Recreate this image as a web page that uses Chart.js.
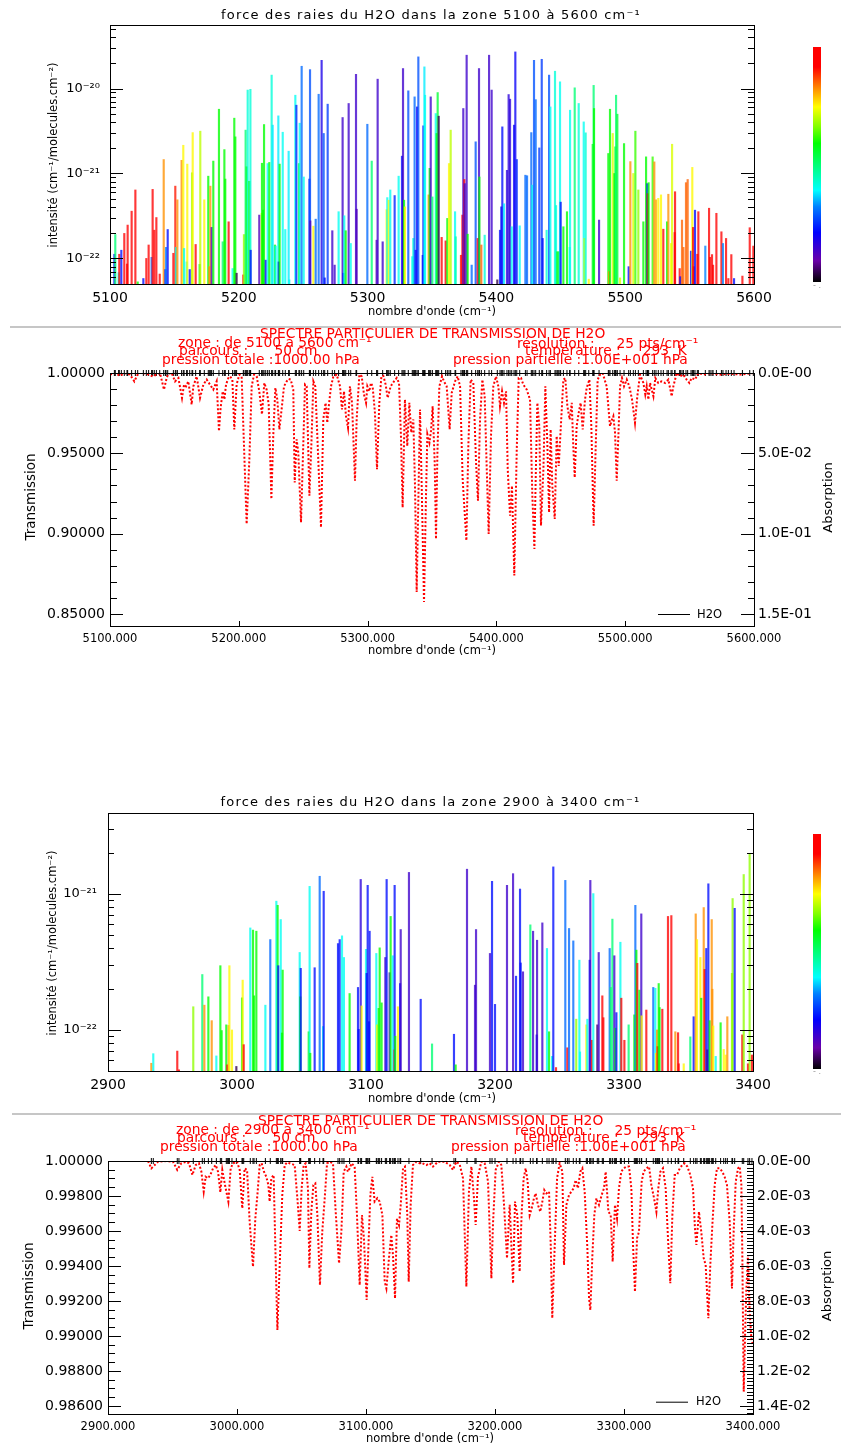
<!DOCTYPE html>
<html lang="fr">
<head>
<meta charset="utf-8">
<title>Raies et transmission H2O</title>
<script src="https://cdn.jsdelivr.net/npm/chart.js@4.4.1/dist/chart.umd.min.js"></script>
<style>
  html, body { margin: 0; padding: 0; background: #fff; }
  body { position: relative; width: 841px; height: 1445px; overflow: hidden; }
  canvas { position: absolute; left: 0; }
  .sep { position: absolute; height: 2px; background: #c6c6c6; }
  .barre { position: absolute; left: 813px; width: 8px; }
</style>
</head>
<body>
<canvas id="raies1" width="841" height="320" style="top:0"></canvas>
<div class="sep" style="top:326px;left:10px;width:831px"></div>
<canvas id="trans1" width="841" height="340" style="top:320px"></canvas>
<canvas id="raies2" width="841" height="320" style="top:785px"></canvas>
<div class="sep" style="top:1113px;left:12px;width:829px"></div>
<canvas id="trans2" width="841" height="340" style="top:1105px"></canvas>
<div class="barre" id="barre1" style="top:47px;height:235px"></div>
<div class="barre" id="barre2" style="top:834px;height:235px"></div>
<script>
// ---- zone 5100-5600 : raies (nombre d'onde, intensite, niveau de couleur 0..1)
const raies1Nu = [
  5103.4,5104.1,5106.7,5107.2,5108.8,5111.1,5113.2,5113.7,5116.8,5119.7,
  5121.5,5125.9,5128.2,5130.0,5132.3,5133.1,5134.4,5136.0,5138.6,5141.7,
  5143.0,5143.5,5144.8,5149.2,5150.7,5151.2,5152.3,5155.6,5156.9,5157.5,
  5159.5,5160.0,5161.9,5163.7,5164.2,5166.5,5169.6,5170.1,5173.2,5176.3,
  5177.1,5177.9,5178.9,5180.2,5184.6,5187.5,5188.8,5189.5,5192.1,5195.2,
  5196.5,5197.3,5198.3,5203.5,5204.0,5205.3,5206.1,5206.9,5208.2,5209.0,
  5209.2,5215.9,5217.8,5218.0,5218.8,5219.6,5220.9,5222.4,5223.7,5225.5,
  5226.3,5228.1,5228.6,5230.7,5231.0,5231.7,5234.1,5236.1,5238.7,5239.2,
  5243.9,5244.7,5246.7,5247.3,5248.8,5250.4,5254.8,5255.3,5255.5,5257.9,
  5259.7,5262.0,5264.3,5265.9,5266.7,5269.0,5272.6,5274.4,5277.5,5280.6,
  5281.2,5281.9,5283.0,5285.3,5286.9,5291.0,5291.5,5299.8,5303.2,5307.0,
  5307.8,5311.7,5314.8,5315.3,5316.4,5317.6,5321.0,5324.1,5326.7,5327.5,
  5328.3,5329.0,5331.6,5334.7,5335.5,5336.5,5337.3,5338.4,5339.4,5342.8,
  5343.3,5344.1,5344.6,5347.4,5348.2,5349.0,5350.3,5352.9,5353.6,5354.4,
  5355.2,5357.5,5360.6,5361.9,5363.2,5364.5,5367.9,5368.4,5372.5,5373.6,
  5374.3,5375.1,5375.4,5376.9,5377.7,5380.8,5383.9,5385.5,5386.5,5386.8,
  5388.3,5390.9,5394.3,5396.3,5400.7,5402.8,5403.8,5404.6,5405.9,5408.2,
  5409.5,5410.6,5411.9,5413.7,5414.7,5415.8,5418.1,5422.5,5423.8,5427.1,
  5427.9,5429.2,5430.5,5433.3,5435.2,5435.9,5439.0,5440.9,5441.9,5445.5,
  5446.3,5447.3,5448.4,5449.4,5449.9,5452.0,5454.8,5456.9,5457.2,5460.8,
  5463.9,5467.8,5468.3,5469.3,5471.7,5474.8,5475.5,5475.8,5479.7,5486.9,
  5487.4,5488.2,5490.3,5491.6,5492.4,5492.9,5493.9,5496.0,5499.1,5502.7,
  5504.0,5506.3,5507.9,5510.2,5514.1,5516.2,5517.2,5517.5,5518.2,5521.3,
  5522.6,5523.9,5525.7,5527.8,5529.6,5532.5,5533.5,5535.6,5536.4,5538.4,
  5538.7,5542.3,5542.8,5544.1,5545.2,5547.2,5548.5,5551.1,5552.1,5552.7,
  5553.2,5554.2,5556.0,5556.8,5562.2,5565.1,5565.9,5567.4,5568.2,5570.8,
  5574.7,5575.9,5578.3,5580.1,5582.4,5584.5,5591.0,5596.7,5599.5
];
const raies1S = [
  1.12e-22,1.91e-22,6.8e-23,1.12e-22,1.25e-22,1.97e-22,8.6e-23,2.47e-22,3.6e-22,6.4e-22,
  5.3e-23,5.8e-23,1.0e-22,1.44e-22,1.03e-22,6.5e-22,2.15e-22,3.03e-22,6.55e-23,1.46e-21,
  7.4e-23,1.35e-22,2.19e-22,1.15e-22,7.1e-22,1.35e-22,4.9e-22,1.43e-21,2.15e-21,1.31e-22,
  9.1e-23,1.29e-21,7.4e-23,1.02e-21,3.03e-21,1.46e-22,8.5e-23,3.15e-21,4.9e-22,9.3e-22,
  8.0e-23,7.1e-22,2.32e-22,1.40e-21,5.71e-21,1.57e-22,1.91e-21,8.6e-22,2.7e-22,7.6e-23,
  4.48e-21,2.7e-21,6.7e-23,6.4e-23,1.91e-22,3.24e-21,1.2e-21,9.6e-21,8.1e-22,9.8e-21,
  1.25e-22,3.24e-22,3.4e-22,1.32e-21,3.7e-22,3.77e-21,9.55e-23,1.31e-21,1.35e-21,1.44e-20,
  3.71e-21,1.44e-22,1.40e-22,4.77e-21,9.1e-23,1.29e-21,3.06e-21,2.19e-22,1.83e-21,5.6e-23,
  8.35e-21,6.37e-21,1.31e-21,3.91e-21,1.83e-20,9.1e-22,8.6e-22,1.67e-20,2.77e-22,2.40e-22,
  2.9e-22,8.57e-21,2.15e-20,2.96e-21,5.9e-23,6.55e-21,2.12e-22,8.35e-23,3.55e-22,4.56e-21,
  6.7e-23,3.18e-22,2.12e-22,6.67e-21,1.50e-22,1.47e-20,3.8e-22,3.8e-21,1.40e-21,1.64e-22,
  1.29e-20,1.57e-22,3.75e-22,5.2e-22,4.85e-22,6.4e-22,5.5e-22,9.3e-22,1.60e-21,1.72e-20,
  4.85e-22,4.05e-22,9.4e-21,1.05e-22,1.72e-22,7.98e-21,1.25e-22,6.08e-21,2.36e-20,1.09e-22,
  3.64e-21,1.80e-20,8.35e-21,5.6e-22,1.15e-21,7.98e-21,5.3e-22,5.08e-21,2.96e-21,8.97e-21,
  4.73e-21,1.77e-22,1.61e-22,2.96e-22,1.31e-21,3.24e-21,3.55e-22,1.80e-22,1.09e-22,3.24e-22,
  5.82e-21,8.5e-22,7.6e-22,2.47e-20,1.93e-22,8.35e-23,2.36e-21,1.72e-22,1.72e-20,9.1e-22,
  1.44e-22,1.88e-22,2.47e-20,9.6e-21,5.6e-23,2.15e-22,4.05e-22,3.54e-21,4.4e-22,1.09e-21,
  8.5e-21,7.5e-21,2.36e-22,3.71e-21,2.70e-20,1.46e-21,2.42e-22,9.55e-22,9.4e-22,3.03e-21,
  7.3e-22,2.15e-20,7.4e-21,2.0e-21,2.21e-20,1.72e-22,2.15e-22,1.44e-20,6.08e-21,1.60e-20,
  4.2e-22,1.20e-22,1.20e-22,1.20e-20,4.6e-22,2.36e-22,3.55e-22,1.35e-22,5.56e-21,1.02e-20,
  6.67e-21,4.05e-21,1.72e-22,3.01e-21,5.7e-23,2.21e-21,1.09e-20,5.82e-21,2.83e-22,1.72e-21,
  7.0e-23,5.71e-21,2.96e-21,1.0e-21,2.06e-21,8.35e-21,4.99e-21,5.9e-23,2.25e-21,8.0e-23,
  1.38e-21,1.0e-21,3.15e-21,6.4e-22,2.7e-22,1.57e-21,7.6e-22,5.8e-22,7.8e-22,1.57e-21,
  1.37e-21,4.9e-22,5.1e-22,5.6e-22,2.21e-22,2.7e-22,5.7e-22,1.50e-22,2.21e-21,2.02e-22,
  6.1e-22,7.6e-23,6.1e-23,2.83e-22,1.35e-22,7.8e-22,8.5e-22,1.22e-22,1.18e-21,2.32e-22,
  8.0e-23,3.7e-22,1.12e-22,3.55e-22,1.40e-22,3.9e-22,1.03e-22,1.11e-22,8.35e-23,3.4e-22,
  2.06e-22,1.50e-22,1.72e-22,5.8e-23,1.11e-22,5.8e-23,6.2e-23,2.3e-22,1.40e-22
];
const raies1Niv = [
  .22,.5,.4,.95,.22,.95,.95,.95,.95,.95,
  .59,.22,.95,.95,.3,.95,.95,.92,.95,.82,
  .22,.32,.22,.95,.9,.4,.82,.82,.75,.4,
  .4,.75,.22,.67,.75,.95,.59,.7,.75,.59,
  .82,.82,.12,.59,.59,.5,.59,.59,.95,.4,
  .59,.59,.04,.95,.67,.5,.59,.42,.59,.42,
  .22,.12,.75,.59,.59,.59,.2,.4,.59,.42,
  .38,.59,.4,.38,.22,.59,.4,.4,.38,.4,
  .4,.24,.55,.4,.3,.4,.24,.28,.12,.75,
  .3,.3,.18,.28,.22,.26,.14,.14,.4,.14,
  .22,.4,.59,.14,.4,.14,.12,.3,.5,.12,
  .14,.14,.75,.4,.75,.4,.24,.4,.22,.14,
  .59,.75,.28,.4,.42,.3,.22,.2,.28,.22,
  .22,.38,.4,.82,.59,.14,.5,.4,.59,.55,
  .04,.95,.95,.59,.75,.7,.4,.45,.95,.95,
  .14,.95,.14,.14,.59,.3,.28,.95,.14,.59,
  .85,.42,.14,.14,.04,.22,.22,.22,.38,.16,
  .16,.16,.4,.2,.2,.24,.4,.3,.3,.3,
  .4,.28,.3,.26,.26,.22,.42,.28,.4,.42,
  .42,.59,.55,.4,.22,.59,.59,.4,.4,.5,
  .42,.4,.72,.42,.75,.59,.5,.59,.14,.59,
  .82,.59,.72,.59,.59,.5,.55,.72,.59,.22,
  .82,.72,.62,.67,.59,.59,.22,.95,.59,.62,
  .82,.8,.75,.75,.95,.59,.82,.75,.72,.95,
  .95,.95,.22,.85,.85,.85,.85,.22,.75,.95,
  .95,.22,.95,.95,.32,.95,.95,.95,.95,.95,
  .95,.32,.95,.95,.95,.22,.95,.95,.95
];

// ---- zone 5100-5600 : spectre de transmission
const trans1Nu = [
  5100.0,5103.9,5107.8,5111.6,5115.5,5118.9,5122.0,5125.9,5129.8,5133.1,5136.2,5138.8,5141.9,5144.0,5145.3,5147.9,5150.5,5153.1,5155.9,5157.5,
  5159.0,5160.8,5163.4,5164.7,5167.3,5169.9,5172.5,5175.1,5177.6,5180.2,5182.8,5184.6,5185.9,5187.5,5188.8,5190.1,5191.9,5193.2,5195.0,5196.5,
  5198.3,5200.4,5202.2,5206.1,5208.2,5210.0,5211.8,5213.9,5215.9,5218.0,5219.8,5221.6,5223.2,5225.3,5226.8,5228.4,5229.9,5231.5,5233.5,5235.1,
  5237.2,5238.7,5240.3,5242.3,5243.4,5244.9,5246.2,5248.3,5250.1,5251.4,5252.7,5254.8,5256.3,5257.9,5259.4,5261.7,5263.8,5265.6,5267.4,5268.7,
  5270.0,5271.6,5273.4,5276.0,5278.6,5280.1,5281.7,5283.2,5284.8,5286.3,5287.9,5290.2,5291.5,5293.6,5295.4,5297.2,5298.8,5299.8,5301.3,5302.6,
  5303.9,5305.7,5307.3,5309.1,5310.7,5312.2,5314.0,5315.6,5317.9,5320.5,5322.6,5324.4,5325.9,5327.2,5329.0,5330.8,5332.4,5333.9,5335.5,5336.8,
  5338.1,
  5340.7,5342.0,5343.8,5345.4,5346.4,5348.0,5349.2,5350.5,5352.1,5353.1,5354.2,5355.7,5357.8,5359.3,5361.4,5363.7,5365.3,5367.9,5369.9,5371.8,
  5373.8,5376.7,5378.2,5380.0,5382.1,5384.2,5385.7,5387.3,5389.1,5390.9,5392.5,5394.0,5395.8,5397.6,5399.7,5401.5,5402.8,5404.4,5405.9,5407.5,
  5408.8,5410.6,5412.1,5413.9,5415.8,5417.3,5419.1,5420.9,5423.5,5426.1,5427.9,5429.5,5430.8,5431.8,5433.3,5434.6,5436.5,5438.0,5439.6,5440.9,
  5442.1,5443.4,5445.3,5446.8,5448.4,5449.9,5452.0,5453.5,5455.1,5456.9,5458.5,5459.7,5460.8,5462.3,5463.9,5465.4,5467.0,5468.8,5470.1,5472.2,
  5473.7,5475.5,5477.1,5478.6,5480.5,5482.5,5485.6,5488.2,5489.8,5490.8,5492.1,5493.4,5494.7,5496.0,5497.5,5499.1,5501.2,5503.2,5505.3,5507.6,
  5509.4,5511.5,5514.1,5515.6,5516.7,5518.0,5519.3,5521.9,5523.4,5525.7,5528.3,5530.9,5533.5,5536.1,5537.4,5540.0,5542.6,5545.1,5547.7,5549.8,
  5551.6,5554.2,5556.8,5560.7,5565.9,5573.6,5581.4,5589.1,5600.0
];
const trans1T = [
  0.9990,1.0,0.9983,1.0,0.9990,0.9948,1.0,1.0,0.9990,0.9979,0.9990,1.0,0.9897,0.9969,0.9996,1.0,0.9948,0.9969,0.9845,0.9928,
  0.9917,0.9948,0.9804,0.9917,0.9979,0.9845,0.9928,0.9959,0.9928,0.9897,0.9948,0.9638,0.9783,0.9886,0.9835,0.9928,0.9969,0.9979,0.9959,0.9649,
  0.9928,0.9990,0.9979,0.9060,0.9463,0.9917,0.9990,0.9979,0.9886,0.9742,0.9938,0.9897,0.9804,0.9215,0.9618,0.9907,0.9835,0.9649,0.9793,0.9917,
  0.9948,0.9963,0.9959,0.9897,0.9318,0.9587,0.9504,0.9070,0.9566,0.9928,0.9917,0.9236,0.9545,0.9948,0.9917,0.9463,0.9039,0.9711,0.9814,0.9690,
  0.9804,0.9917,0.9979,0.9990,0.9917,0.9773,0.9886,0.9731,0.9659,0.9917,0.9814,0.9329,0.9711,0.9990,0.9979,0.9866,0.9814,0.9917,0.9886,0.9938,
  0.9917,0.9752,0.9401,0.9814,0.9979,0.9983,0.9928,0.9845,0.9917,0.9948,0.9969,0.9938,0.9607,0.9163,0.9835,0.9545,0.9814,0.9628,0.9711,0.9298,
  0.8636,
  0.9773,0.9298,0.8574,0.9256,0.9618,0.9566,0.9638,0.9793,0.9442,0.8967,0.9504,0.9917,0.9979,0.9948,0.9917,0.9649,0.9876,0.9948,0.9979,0.9917,
  0.9339,0.8957,0.9545,0.9959,0.9938,0.9442,0.9205,0.9711,0.9959,0.9855,0.9401,0.8998,0.9607,0.9917,0.9979,0.9917,0.9793,0.9886,0.9814,0.9886,
  0.9401,0.9112,0.9298,0.8740,0.9525,0.9969,0.9969,0.9928,0.9897,0.9835,0.9236,0.8905,0.9463,0.9814,0.9669,0.9050,0.9401,0.9917,0.9545,0.9132,
  0.9649,0.9298,0.9091,0.9607,0.9421,0.9649,0.9959,0.9969,0.9793,0.9711,0.9814,0.9545,0.9349,0.9669,0.9752,0.9814,0.9649,0.9835,0.9907,0.9959,
  0.9669,0.9050,0.9545,0.9959,0.9990,1.0,0.9917,0.9669,0.9711,0.9731,0.9628,0.9329,0.9607,0.9917,0.9969,0.9917,0.9959,0.9917,0.9835,0.9690,
  0.9855,0.9990,0.9938,0.9866,0.9917,0.9835,0.9938,0.9855,0.9969,0.9938,0.9948,0.9938,0.9959,0.9855,0.9917,1.0,0.9979,0.9990,0.9959,0.9938,
  0.9969,0.9959,1.0,0.9990,1.0,0.9990,0.9996,0.9990,1.0
];

// ---- zone 2900-3400 : raies
const raies2Nu = [
  2933.6,2935.1,2953.7,2955.0,2966.1,2973.1,2974.7,2977.8,2980.4,2984.0,
  2987.1,2988.1,2991.7,2992.5,2993.5,2994.1,2996.1,2999.5,3003.9,3004.4,
  3005.2,3010.3,3012.4,3013.2,3015.0,3022.0,3025.8,3030.5,3031.5,3032.0,
  3033.9,3034.9,3035.4,3048.6,3049.1,3049.4,3055.6,3056.3,3056.8,3060.2,
  3064.1,3066.7,3067.2,3078.3,3079.6,3081.4,3082.9,3087.3,3093.8,3094.3,
  3095.9,3096.6,3100.0,3100.5,3101.3,3102.3,3102.8,3108.0,3108.5,3109.8,
  3110.6,3112.1,3115.0,3116.0,3118.3,3119.1,3120.7,3121.7,3122.2,3122.7,
  3124.8,3126.4,3126.9,3133.3,3142.4,3151.2,3168.2,3169.5,3178.3,3184.5,
  3185.3,3196.1,3197.7,3200.0,3209.3,3214.0,3216.3,3219.4,3219.9,3221.7,
  3227.4,3229.5,3232.3,3232.6,3236.7,3240.3,3241.9,3244.2,3245.2,3247.3,
  3254.5,3256.1,3257.4,3260.7,3263.0,3265.4,3265.9,3270.8,3271.6,3273.4,
  3273.9,3275.2,3276.2,3279.3,3280.4,3283.2,3284.0,3288.9,3289.7,3291.0,
  3292.5,3293.3,3294.1,3297.2,3297.9,3300.3,3303.6,3308.0,3308.8,3309.6,
  3310.3,3311.9,3313.4,3313.7,3317.3,3322.7,3324.3,3324.8,3325.6,3326.1,
  3326.9,3327.6,3329.7,3334.1,3336.7,3339.8,3341.9,3342.4,3346.3,3351.4,
  3354.0,3355.6,3356.6,3359.2,3359.9,3361.8,3362.5,3363.8,3364.6,3365.4,
  3366.4,3368.0,3368.5,3369.2,3371.1,3374.9,3377.3,3378.8,3380.1,3383.7,
  3384.2,3385.8,3391.7,3392.8,3396.1,3397.4,3399.2
];
const raies2S = [
  5.7e-23,6.7e-23,7.0e-23,5.1e-23,1.48e-22,2.55e-22,1.52e-22,1.75e-22,1.17e-22,6.45e-23,
  2.96e-22,9.9e-23,1.09e-22,5.55e-23,1.08e-22,2.96e-22,1.0e-22,5.4e-23,1.72e-22,2.32e-22,
  7.8e-23,5.6e-22,5.4e-22,1.78e-22,5.3e-22,1.52e-22,4.6e-22,8.8e-22,8.2e-22,2.96e-22,
  6.45e-22,9.5e-23,2.75e-22,3.7e-22,1.75e-22,2.83e-22,9.7e-23,1.13e-21,6.75e-23,2.86e-22,
  1.34e-21,1.06e-22,1.04e-21,4.3e-22,4.6e-22,4.9e-22,3.4e-22,1.85e-22,2.05e-22,1.01e-22,
  1.27e-21,1.50e-22,3.9e-22,2.6e-22,1.15e-21,1.15e-22,5.3e-22,3.64e-22,1.09e-22,1.44e-22,
  4.0e-22,1.58e-22,3.4e-22,1.27e-21,2.63e-22,6.8e-22,3.5e-22,7.15e-23,1.15e-21,9.0e-23,
  1.48e-22,2.19e-22,5.45e-22,1.43e-21,1.68e-22,7.9e-23,9.3e-23,5.55e-23,1.51e-21,2.13e-22,
  5.45e-22,3.64e-22,1.23e-21,1.54e-22,1.15e-21,1.40e-21,2.48e-22,1.08e-21,3.1e-22,2.67e-22,
  5.9e-22,5.3e-22,9.2e-23,4.55e-22,6.1e-22,3.96e-22,9.7e-23,6.4e-23,1.57e-21,5.3e-23,
  1.25e-21,7.4e-23,5.55e-22,4.5e-22,1.20e-22,3.25e-22,6.9e-23,1.09e-22,1.20e-22,3.25e-22,
  1.25e-21,8.4e-23,1.0e-21,1.09e-22,3.7e-22,1.78e-22,1.23e-22,3.96e-22,2.05e-22,6.5e-22,
  3.5e-22,1.03e-22,1.34e-22,4.4e-22,1.71e-22,8.4e-23,1.09e-22,1.29e-22,8.2e-22,3.85e-22,
  3.08e-22,1.96e-22,7.1e-22,1.27e-22,1.40e-22,2.05e-22,2.02e-22,6.75e-23,1.0e-22,7.55e-23,
  2.19e-22,1.46e-22,1.42e-22,6.8e-22,6.9e-22,9.7e-23,9.55e-23,5.65e-23,5.65e-23,8.9e-23,
  1.25e-22,7.1e-22,4.6e-22,3.4e-22,1.71e-22,7.9e-22,2.78e-22,3.96e-22,7.15e-23,1.18e-21,
  1.17e-22,6.45e-22,1.99e-22,1.07e-22,6.4e-23,1.13e-22,7.2e-23,6.55e-23,1.25e-22,2.6e-22,
  9.2e-22,7.8e-22,9.2e-23,1.38e-21,5.65e-23,1.96e-21,6.55e-23
];
const raies2Niv = [
  .82,.4,.95,.95,.67,.5,.82,.59,.82,.4,
  .59,.59,.59,.95,.82,.75,.75,.04,.59,.75,
  .95,.4,.59,.59,.59,.4,.3,.4,.59,.22,
  .4,.59,.59,.4,.59,.22,.59,.4,.59,.22,
  .3,.4,.22,.22,.22,.4,.4,.59,.22,.22,
  .16,.75,.4,.22,.22,.22,.22,.4,.75,.59,
  .59,.59,.14,.22,.14,.59,.4,.82,.22,.59,
  .75,.22,.14,.14,.22,.5,.22,.59,.14,.14,
  .14,.14,.22,.22,.14,.14,.22,.22,.22,.14,
  .5,.14,.22,.14,.14,.4,.59,.4,.22,.95,
  .3,.95,.3,.3,.67,.4,.4,.75,.4,.22,
  .14,.95,.4,.06,.14,.95,.95,.3,.5,.5,
  .14,.59,.22,.4,.95,.95,.5,.59,.3,.59,
  .95,.59,.14,.75,.95,.3,.4,.75,.82,.95,
  .59,.59,.95,.95,.95,.82,.95,.95,.75,.5,
  .22,.82,.75,.75,.59,.82,.95,.22,.06,.22,
  .59,.82,.82,.75,.4,.59,.75,.75,.82,.67,
  .67,.22,.95,.67,.95,.67,.95
];

// ---- zone 2900-3400 : spectre de transmission
const trans2Nu = [
  2900.0,2931.0,2933.6,2936.2,2938.8,2945.2,2950.4,2953.7,2956.8,2960.7,2962.8,2965.4,2968.0,2970.5,2972.4,2974.2,2975.7,2977.5,2979.3,2981.4,
  2983.5,2985.3,2987.1,2988.6,2990.7,2993.3,2995.1,2996.9,3000.0,3002.1,3004.1,3005.9,3007.8,3009.8,3012.4,3014.2,3015.8,3017.6,3019.1,3020.9,
  3022.7,3024.3,3025.3,3026.6,3028.4,3030.0,3031.3,3033.1,3035.1,3037.0,3038.8,3040.8,3044.7,3046.8,3048.6,3050.1,3051.7,3053.2,3055.0,3056.1,
  3057.6,3059.2,3060.7,3062.3,3064.3,3066.1,3068.0,3069.8,3071.8,3074.4,3076.5,3079.1,3080.9,3082.7,3084.8,3086.0,3087.3,3088.9,3091.2,3093.0,
  3095.1,3096.9,3098.4,3100.5,3102.1,3103.4,3104.9,3106.7,3108.8,3110.6,3112.7,3114.5,3115.8,3117.8,3119.6,3120.9,3122.5,3124.0,3125.6,3126.9,
  3128.7,3130.2,3132.0,3133.1,3134.6,3136.4,3139.0,3141.6,
  3143.7,3146.8,3149.4,3151.9,3155.8,3161.0,3164.9,3167.4,3170.0,3172.6,3175.2,3177.8,3179.8,3181.7,3183.7,3185.0,3186.8,3189.4,3192.0,3194.6,
  3197.2,3198.4,3200.5,3203.1,3204.9,3207.0,3209.3,3211.4,3212.9,3214.0,3215.5,3217.3,3219.1,3220.7,3222.2,3223.8,3225.3,3226.9,3228.4,3230.2,
  3231.5,3233.3,3235.1,3236.7,3238.2,3239.8,3241.9,3243.2,3244.4,3246.3,3248.1,3250.1,3252.2,3253.5,3255.3,3257.4,3259.2,3261.0,3262.5,3264.3,
  3266.1,3267.7,3269.5,3271.6,3272.9,3273.9,3275.5,3277.0,3278.6,3280.6,3282.7,3284.5,3285.8,3287.9,3289.7,3291.2,3293.0,3294.6,3296.1,3297.9,
  3299.7,3301.8,3303.9,3305.7,3307.0,3308.5,3310.1,3311.6,3313.7,3315.2,3317.3,3319.4,3321.2,3323.3,3325.1,3326.6,3328.2,3330.2,3332.3,3334.1,
  3335.9,3337.5,3339.3,3341.1,3343.2,3345.2,3347.0,3349.1,3351.4,3353.5,3355.0,3356.1,3358.1,3359.9,3361.8,3363.3,3365.4,3366.9,3368.5,3370.3,
  3372.1,3374.2,3376.2,3378.0,3379.8,3381.9,3383.7,3385.0,3386.6,3388.4,3389.7,3391.0,3391.7,3392.8,3393.8,3394.8,3396.1,3397.4,3398.7,3400.0
];
const trans2T = [
  1.0,1.0,0.99958,0.99977,0.99996,1.0,0.99996,0.99949,0.99987,0.99996,0.99987,0.99920,0.99977,0.99987,0.99939,0.99825,0.99910,0.99901,0.99920,0.99958,
  0.99977,0.99939,0.99821,0.99949,0.99863,0.99768,0.99958,0.99987,0.99996,0.99949,0.99729,0.99958,0.99949,0.99653,0.99396,0.99672,0.99806,0.99977,0.99987,0.99939,
  0.99910,0.99863,0.99768,0.99901,0.99920,0.99425,0.99034,0.99406,0.99806,0.99977,0.99992,0.99987,0.99977,0.99787,0.99600,0.99844,0.99977,0.99987,0.99844,0.99387,
  0.99710,0.99863,0.99872,0.99691,0.99291,0.99596,0.99787,0.99987,0.99996,0.99987,0.99710,0.99415,0.99596,0.99939,0.99968,0.99939,0.99958,0.99987,0.99968,0.99691,
  0.99291,0.99691,0.99558,0.99206,0.99558,0.99806,0.99910,0.99768,0.99787,0.99768,0.99691,0.99310,0.99272,0.99444,0.99577,0.99463,0.99215,0.99672,0.99634,0.99749,
  0.99958,0.99968,0.99691,0.99310,0.99749,0.99977,0.99996,0.99987,
  0.99987,0.99977,0.99987,0.99968,0.99996,0.99996,0.99977,0.99949,0.99996,0.99981,0.99901,0.99282,0.99825,0.99968,0.99787,0.99634,0.99910,0.99996,0.99987,0.99882,
  0.99329,0.99634,0.99949,0.99996,0.99977,0.99749,0.99444,0.99749,0.99482,0.99301,0.99768,0.99691,0.99368,0.99710,0.99901,0.99958,0.99882,0.99691,0.99729,0.99787,
  0.99815,0.99749,0.99710,0.99768,0.99834,0.99815,0.99825,0.99520,0.99101,0.99520,0.99901,0.99987,0.99939,0.99406,0.99749,0.99806,0.99825,0.99844,0.99891,0.99844,
  0.99939,0.99958,0.99825,0.99501,0.99215,0.99148,0.99463,0.99691,0.99787,0.99749,0.99806,0.99844,0.99939,0.99710,0.99691,0.99425,0.99749,0.99672,0.99844,0.99939,
  0.99958,0.99968,0.99968,0.99844,0.99520,0.99253,0.99558,0.99596,0.99882,0.99939,0.99958,0.99968,0.99863,0.99787,0.99710,0.99844,0.99939,0.99958,0.99844,0.99558,
  0.99301,0.99691,0.99920,0.99920,0.99958,0.99977,0.99987,0.99968,0.99920,0.99844,0.99615,0.99520,0.99710,0.99596,0.99444,0.99406,0.99101,0.99406,0.99634,0.99863,
  0.99958,0.99958,0.99939,0.99910,0.99863,0.99653,0.99272,0.99596,0.99882,0.99958,0.99968,0.99863,0.99482,0.98682,0.98987,0.99253,0.99463,0.99139,0.98987,0.98948
];

// ---- graduations
const xTicks1 = [5100, 5200, 5300, 5400, 5500, 5600];
const xTicks2 = [2900, 3000, 3100, 3200, 3300, 3400];
const logTicks1 = [1e-22, 1e-21, 1e-20];
const logLabels1 = ['10⁻²²', '10⁻²¹', '10⁻²⁰'];
const logTicks2 = [1e-22, 1e-21];
const logLabels2 = ['10⁻²²', '10⁻²¹'];
const transTicks1 = [0.85, 0.90, 0.95, 1.00];
const absTicks1 = [0, 0.05, 0.10, 0.15];
const transTicks2 = [0.986, 0.988, 0.990, 0.992, 0.994, 0.996, 0.998, 1.000];
const absTicks2 = [0, 0.002, 0.004, 0.006, 0.008, 0.010, 0.012, 0.014];

// ---- table de couleurs (arc-en-ciel + noir)
const paliers = [0, 0.09, 0.21, 0.32, 0.39, 0.49, 0.59, 0.66, 0.745, 0.815, 0.915, 1];
const teintes = [[0,0,0],[106,0,168],[0,0,255],[0,128,255],[0,255,255],[0,255,128],[0,255,0],[128,255,0],[255,255,0],[255,153,0],[255,0,0],[255,0,0]];

function couleur(v, a) {
  let i = 1;
  while (i < paliers.length - 1 && v > paliers[i]) i++;
  const t = Math.max(0, Math.min(1, (v - paliers[i - 1]) / (paliers[i] - paliers[i - 1])));
  const c = teintes[i - 1].map((c0, k) => Math.round(c0 + (teintes[i][k] - c0) * t));
  return `rgba(${c[0]},${c[1]},${c[2]},${a})`;
}

const degrade = 'linear-gradient(to top,' + paliers.map((p, i) => `rgb(${teintes[i].join(',')}) ${p * 100}%`).join(',') + ')';
document.getElementById('barre1').style.background = degrade;
document.getElementById('barre2').style.background = degrade;

const POLICE = '"DejaVu Sans", sans-serif';
const ROUGE = '#ff0000';

function mineursLog(min, max) {
  const out = [];
  for (let e = Math.floor(Math.log10(min)); e <= Math.ceil(Math.log10(max)); e++) {
    for (let k = 2; k <= 9; k++) {
      const v = k * Math.pow(10, e);
      if (v >= min && v <= max) out.push(v);
    }
  }
  return out;
}

function mineursLin(a, b, pas) {
  const out = [];
  for (let k = Math.ceil(a / pas - 1e-9); k * pas <= b + 1e-12; k++) out.push(+(k * pas).toFixed(10));
  return out;
}

function formatE(v) {
  if (Math.abs(v) < 1e-12) return '0.0E-00';
  const e = Math.floor(Math.log10(v) + 1e-9);
  const m = v / Math.pow(10, e);
  return m.toFixed(1) + 'E' + (e < 0 ? '-' : '+') + String(Math.abs(e)).padStart(2, '0');
}

// cadre, graduations rentrantes facon IDL, textes libres, legende
const idl = {
  id: 'idl',
  afterDraw(chart, args, o) {
    const ctx = chart.ctx, a = chart.chartArea;
    ctx.save();
    ctx.strokeStyle = '#000';
    ctx.lineWidth = 1;
    ctx.strokeRect(Math.round(a.left) + 0.5, Math.round(a.top) + 0.5, Math.round(a.right - a.left), Math.round(a.bottom - a.top));
    (o.graduations || []).forEach(g => {
      const sc = chart.scales[g.axe];
      const trace = (v, len) => {
        if (!len) return;
        const p = Math.round(sc.getPixelForValue(v)) + 0.5;
        ctx.beginPath();
        if (sc.isHorizontal()) {
          ctx.moveTo(p, a.bottom); ctx.lineTo(p, a.bottom - len);
        } else {
          if (g.gauche) { ctx.moveTo(a.left, p); ctx.lineTo(a.left + len, p); }
          if (g.droite) { ctx.moveTo(a.right, p); ctx.lineTo(a.right - len, p); }
        }
        ctx.stroke();
      };
      (g.mineurs || []).forEach(v => trace(v, g.mineur));
      sc.ticks.forEach(t => trace(t.value, g.majeur));
    });
    (o.textes || []).forEach(t => {
      ctx.save();
      ctx.font = t.font;
      ctx.fillStyle = t.couleur || '#000';
      ctx.textAlign = t.align || 'left';
      ctx.textBaseline = t.base || 'alphabetic';
      ctx.letterSpacing = t.esp || '0px';
      ctx.translate(t.x, t.y);
      if (t.rot) ctx.rotate(t.rot);
      ctx.fillText(t.txt, 0, 0);
      ctx.restore();
    });
    if (o.legende) {
      const l = o.legende;
      ctx.beginPath();
      ctx.moveTo(l.x1, l.y + 0.5); ctx.lineTo(l.x2, l.y + 0.5);
      ctx.stroke();
      ctx.font = '11.5px ' + POLICE;
      ctx.fillStyle = '#000';
      ctx.textBaseline = 'alphabetic';
      ctx.fillText(l.texte, l.tx, l.ty);
    }
    ctx.restore();
  }
};

const sansGrille = { display: false, drawTicks: false, offset: false };

function graphRaies(id, nu, S, niv, p) {
  return new Chart(document.getElementById(id), {
    type: 'bar',
    data: {
      datasets: [{
        data: nu.map((x, i) => ({ x, y: S[i] })),
        backgroundColor: niv.map(v => couleur(v, 0.78)),
        borderWidth: 0,
        barThickness: 1.5,
        grouped: false
      }]
    },
    options: {
      responsive: false,
      animation: false,
      events: [],
      layout: { padding: { top: p.haut, right: p.droite, left: 0, bottom: 0 } },
      plugins: {
        legend: { display: false },
        tooltip: { enabled: false },
        idl: {
          graduations: [{ axe: 'y', gauche: true, droite: true, majeur: 13, mineur: 6, mineurs: mineursLog(p.ymin, p.ymax) }],
          textes: p.textes
        }
      },
      scales: {
        x: {
          type: 'linear', min: p.xmin, max: p.xmax, offset: false,
          grid: sansGrille, border: { display: false },
          afterBuildTicks: s => { s.ticks = p.xticks.map(v => ({ value: v })); },
          afterFit: s => { s.height = p.hx; },
          ticks: { font: { family: POLICE, size: 14 }, color: '#000', padding: 6, maxRotation: 0, autoSkip: false, callback: v => String(v) }
        },
        y: {
          type: 'logarithmic', min: p.ymin, max: p.ymax,
          grid: sansGrille, border: { display: false },
          afterBuildTicks: s => { s.ticks = p.yticks.map(v => ({ value: v })); },
          afterFit: s => { s.width = p.gy; },
          ticks: { font: { family: POLICE, size: 13 }, color: '#000', padding: p.padY, autoSkip: false, callback: (v, i) => p.ylabels[i] }
        }
      }
    },
    plugins: [idl]
  });
}

function graphTrans(id, nu, T, raies, p) {
  return new Chart(document.getElementById(id), {
    type: 'line',
    data: {
      datasets: [
        {
          data: nu.map((x, i) => ({ x, y: T[i] })),
          borderColor: ROUGE, borderWidth: 2, borderDash: [2, 2], borderCapStyle: 'butt',
          pointRadius: 0, tension: 0, fill: false
        },
        {
          type: 'scatter',
          data: raies.map(x => ({ x, y: 1 })),
          pointStyle: 'line', rotation: 90, pointRadius: 3,
          borderColor: '#000', borderWidth: 1, clip: false
        }
      ]
    },
    options: {
      responsive: false,
      animation: false,
      events: [],
      layout: { padding: { top: p.haut, right: 0, left: 0, bottom: 0 } },
      plugins: {
        legend: { display: false },
        tooltip: { enabled: false },
        idl: {
          graduations: [
            { axe: 'x', majeur: 5 },
            { axe: 'y', gauche: true, majeur: 13, mineur: 7, mineurs: mineursLin(p.ymin, 1, p.pasY) },
            { axe: 'y2', droite: true, majeur: 13, mineur: 6, mineurs: mineursLin(0, 1 - p.ymin, p.pasA) }
          ],
          textes: p.textes,
          legende: p.legende
        }
      },
      scales: {
        x: {
          type: 'linear', min: p.xmin, max: p.xmax,
          grid: sansGrille, border: { display: false },
          afterBuildTicks: s => { s.ticks = p.xticks.map(v => ({ value: v })); },
          afterFit: s => { s.height = p.hx; },
          ticks: { font: { family: POLICE, size: 11.5 }, color: '#000', padding: 6, maxRotation: 0, autoSkip: false, callback: v => v.toFixed(3) }
        },
        y: {
          type: 'linear', position: 'left', min: p.ymin, max: 1,
          grid: sansGrille, border: { display: false },
          afterBuildTicks: s => { s.ticks = p.yticks.map(v => ({ value: v })); },
          afterFit: s => { s.width = p.gy; },
          ticks: { font: { family: POLICE, size: 14 }, color: '#000', padding: 5, autoSkip: false, callback: v => v.toFixed(5) }
        },
        y2: {
          type: 'linear', position: 'right', min: 0, max: 1 - p.ymin, reverse: true,
          grid: sansGrille, border: { display: false },
          afterBuildTicks: s => { s.ticks = p.aticks.map(v => ({ value: v })); },
          afterFit: s => { s.width = p.gy2; },
          ticks: { font: { family: POLICE, size: 14 }, color: '#000', padding: 4, autoSkip: false, callback: v => formatE(v) }
        }
      }
    },
    plugins: [idl]
  });
}

const titreFont = '13px ' + POLICE;
const petiteFont = '11.5px ' + POLICE;
const rougeFont = '13.8px ' + POLICE;
const VERT = -Math.PI / 2;

function entete(zone, dy, dx) {
  return [
    { txt: 'SPECTRE PARTICULIER DE TRANSMISSION DE H2O', x: 260 + dx, y: 18.3 + dy, font: rougeFont, couleur: ROUGE },
    { txt: 'zone : de ' + zone + ' cm⁻¹', x: 178 + dx, y: 27.3 + dy, font: rougeFont, couleur: ROUGE },
    { txt: 'parcours :      50 cm', x: 179 + dx, y: 34.5 + dy, font: rougeFont, couleur: ROUGE },
    { txt: 'pression totale :1000.00 hPa', x: 162 + dx, y: 44.3 + dy, font: rougeFont, couleur: ROUGE },
    { txt: 'résolution :     25 pts/cm⁻¹', x: 517 + dx, y: 27.7 + dy, font: rougeFont, couleur: ROUGE },
    { txt: 'température :     293  K', x: 525 + dx, y: 35 + dy, font: rougeFont, couleur: ROUGE },
    { txt: 'pression partielle :1.00E+001 hPa', x: 453 + dx, y: 44.3 + dy, font: rougeFont, couleur: ROUGE }
  ];
}

graphRaies('raies1', raies1Nu, raies1S, raies1Niv, {
  haut: 25, droite: 87, hx: 36, gy: 110, padY: 10,
  xmin: 5100, xmax: 5600, ymin: 5e-23, ymax: 5.6e-20,
  xticks: xTicks1, yticks: logTicks1, ylabels: logLabels1,
  textes: [
    { txt: 'force des raies du H2O dans la zone 5100 à 5600 cm⁻¹', x: 431, y: 19, align: 'center', font: titreFont, esp: '1.2px' },
    { txt: 'intensité (cm⁻¹/molecules.cm⁻²)', x: 54, y: 155, rot: VERT, align: 'center', base: 'middle', font: petiteFont },
    { txt: "nombre d'onde (cm⁻¹)", x: 432, y: 315, align: 'center', font: petiteFont },
    { txt: '- .', x: 813, y: 288, font: '8px ' + POLICE, couleur: '#999' }
  ]
});

graphTrans('trans1', trans1Nu, trans1T, raies1Nu, {
  haut: 53, hx: 34, gy: 110, gy2: 87,
  xmin: 5100, xmax: 5600, ymin: 0.8425, pasY: 0.01, pasA: 0.01,
  xticks: xTicks1, yticks: transTicks1, aticks: absTicks1,
  textes: entete('5100 à 5600', 0, 0).concat([
    { txt: 'Transmission', x: 31, y: 177, rot: VERT, align: 'center', base: 'middle', font: '13.5px ' + POLICE },
    { txt: 'Absorption', x: 829, y: 177.5, rot: VERT, align: 'center', base: 'middle', font: '13px ' + POLICE },
    { txt: "nombre d'onde (cm⁻¹)", x: 432, y: 334, align: 'center', font: petiteFont }
  ]),
  legende: { x1: 658, x2: 690, y: 294, texte: 'H2O', tx: 697, ty: 298 }
});

graphRaies('raies2', raies2Nu, raies2S, raies2Niv, {
  haut: 28, droite: 88, hx: 34, gy: 108, padY: 11,
  xmin: 2900, xmax: 3400, ymin: 5e-23, ymax: 3.9e-21,
  xticks: xTicks2, yticks: logTicks2, ylabels: logLabels2,
  textes: [
    { txt: 'force des raies du H2O dans la zone 2900 à 3400 cm⁻¹', x: 430.5, y: 21, align: 'center', font: titreFont, esp: '1.2px' },
    { txt: 'intensité (cm⁻¹/molecules.cm⁻²)', x: 53, y: 158, rot: VERT, align: 'center', base: 'middle', font: petiteFont },
    { txt: "nombre d'onde (cm⁻¹)", x: 432, y: 317, align: 'center', font: petiteFont },
    { txt: '- .', x: 813, y: 289, font: '8px ' + POLICE, couleur: '#999' }
  ]
});

graphTrans('trans2', trans2Nu, trans2T, raies2Nu, {
  haut: 56, hx: 31, gy: 108, gy2: 88,
  xmin: 2900, xmax: 3400, ymin: 0.98554, pasY: 0.0005, pasA: 0.0002,
  xticks: xTicks2, yticks: transTicks2, aticks: absTicks2,
  textes: entete('2900 à 3400', 2, -2).concat([
    { txt: 'Transmission', x: 29, y: 181, rot: VERT, align: 'center', base: 'middle', font: '13.5px ' + POLICE },
    { txt: 'Absorption', x: 828, y: 181, rot: VERT, align: 'center', base: 'middle', font: '13px ' + POLICE },
    { txt: "nombre d'onde (cm⁻¹)", x: 430, y: 336.5, align: 'center', font: petiteFont }
  ]),
  legende: { x1: 656, x2: 688, y: 296.7, texte: 'H2O', tx: 696, ty: 300 }
});
</script>
</body>
</html>
